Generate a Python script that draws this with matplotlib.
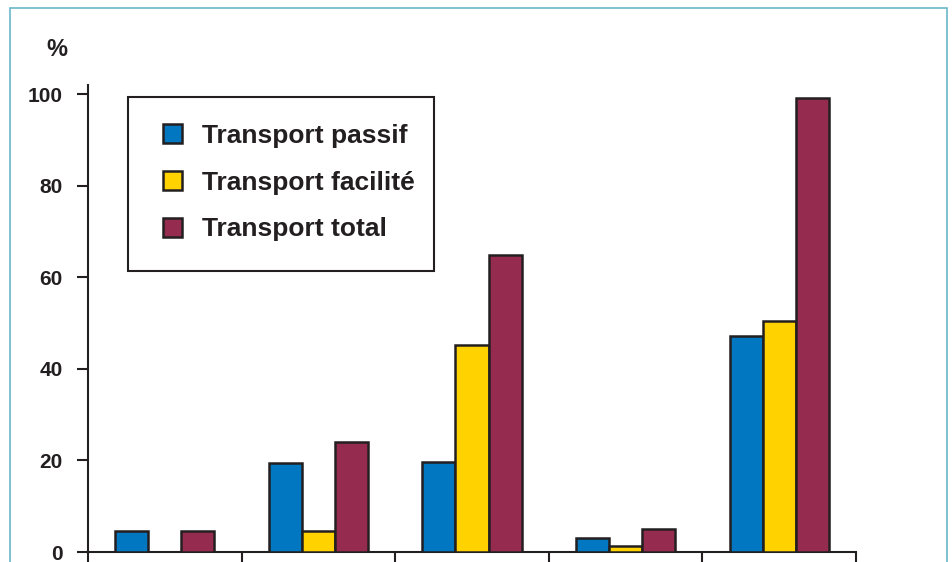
import matplotlib.pyplot as plt
import matplotlib.patches as mpatches
import numpy as np

plt.rcParams['font.family'] = ['Liberation Sans', 'DejaVu Sans']
plt.rcParams['font.weight'] = 'bold'

# values (%)
groups = ['1', '2', '3', '4', '5']
passif = [4.5, 19.5, 19.6, 3.1, 47.2]
facilite = [0, 4.6, 45.2, 1.3, 50.4]
total = [4.6, 24.0, 64.8, 5.0, 99.1]
labels = ['Transport passif', 'Transport facilité', 'Transport total']
colors = ['#0077c0', '#ffd200', '#952c50']
ink = '#231f20'

W, H = 952, 562
fig = plt.figure(figsize=(9.52, 5.62), dpi=100)
ax = fig.add_axes([88 / W, 1 - 552 / H, (856 - 88) / W, (552 - 85) / H])

x = np.arange(len(groups))
w = 0.215
series = [passif, facilite, total]
for i, vals in enumerate(series):
    ax.bar(x + (i - 1) * w, vals, w, color=colors[i], edgecolor=ink,
           linewidth=1.8, label=labels[i], zorder=3)

ax.set_xlim(-0.5, 4.5)
ax.set_ylim(0, 102)
ax.set_yticks([0, 20, 40, 60, 80, 100])
ax.set_xticks(np.arange(-0.5, 5, 1))
ax.set_xticklabels([])
ax.tick_params(axis='y', length=8, width=1.5, color=ink, labelsize=15,
               labelcolor=ink, pad=10)
ax.tick_params(axis='x', length=10, width=1.5, color=ink)
for lbl in ax.get_yticklabels():
    lbl.set_fontweight('bold')
for s in ['top', 'right']:
    ax.spines[s].set_visible(False)
for s in ['left', 'bottom']:
    ax.spines[s].set_linewidth(1.5)
    ax.spines[s].set_color(ink)

fig.text(57 / W, 1 - 49 / H, '%', fontsize=17, fontweight='bold',
         color=ink, ha='center', va='center')

# legend box
fig.patches.append(mpatches.Rectangle((128 / W, 1 - 271 / H), (434 - 128) / W,
                                      (271 - 97) / H, transform=fig.transFigure,
                                      fill=False, edgecolor=ink, linewidth=1.5,
                                      zorder=5))
leg = fig.legend(loc='upper left', bbox_to_anchor=(163 / W, 1 - 124 / H),
                 frameon=False, fontsize=19, handlelength=0.73,
                 handleheight=0.73, handletextpad=0.75, labelspacing=0.86,
                 borderpad=0, borderaxespad=0)
for t in leg.get_texts():
    t.set_fontweight('bold')
    t.set_color(ink)

# thin teal frame around the figure
fig.patches.append(mpatches.Rectangle((10 / W, -0.05), (947 - 10) / W,
                                      1 - 8 / H + 0.05, transform=fig.transFigure,
                                      fill=False, edgecolor='#6bb8c8',
                                      linewidth=1.2, zorder=0))

fig.savefig('out.png', dpi=100)
